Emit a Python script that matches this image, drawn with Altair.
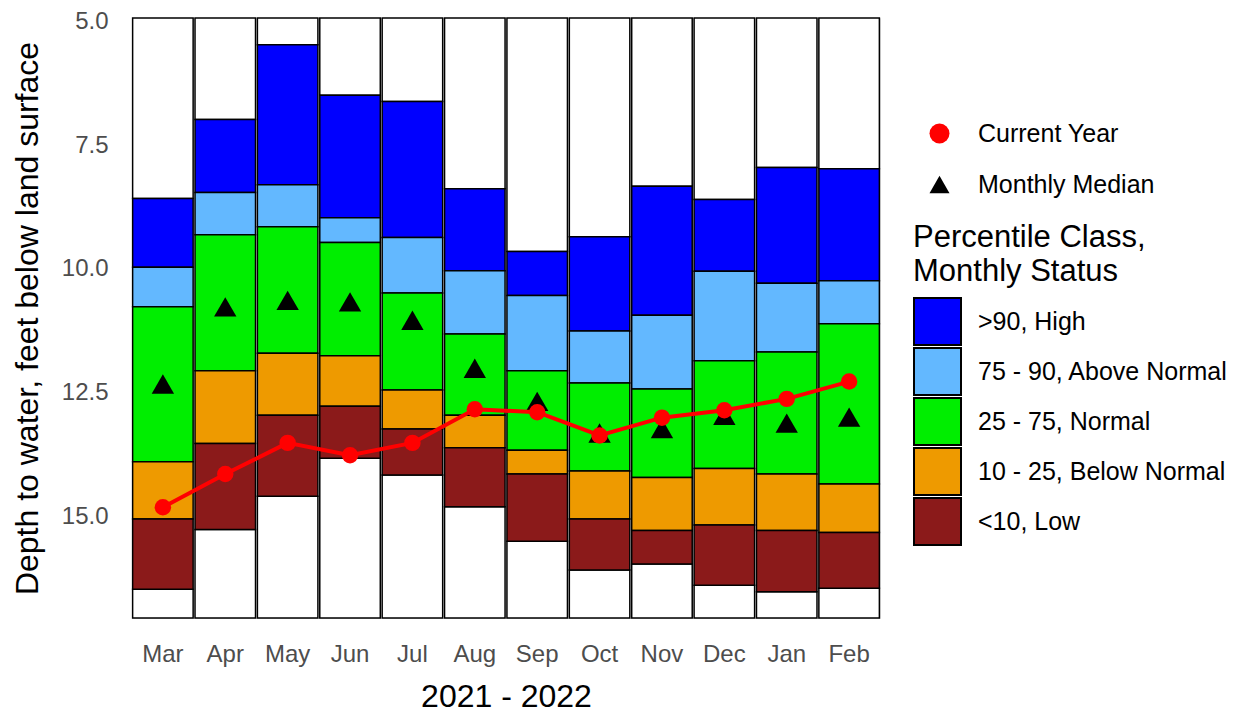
import altair as alt
import pandas as pd

months = ["Mar", "Apr", "May", "Jun", "Jul", "Aug", "Sep", "Oct", "Nov", "Dec", "Jan", "Feb"]
high_top = [8.58, 6.98, 5.47, 6.49, 6.62, 8.38, 9.65, 9.35, 8.33, 8.60, 7.95, 7.98]
p90 = [9.97, 8.46, 8.30, 8.97, 9.37, 10.04, 10.54, 11.26, 10.94, 10.05, 10.29, 10.24]
p75 = [10.77, 9.31, 9.15, 9.47, 10.49, 11.32, 12.06, 12.31, 12.43, 11.86, 11.68, 11.11]
p25 = [13.90, 12.06, 11.71, 11.76, 12.45, 12.96, 13.67, 14.09, 14.22, 14.04, 14.15, 14.35]
p10 = [15.06, 13.53, 12.96, 12.78, 13.24, 13.62, 14.15, 15.06, 15.29, 15.18, 15.29, 15.33]
low_bottom = [16.48, 15.27, 14.60, 13.83, 14.17, 14.81, 15.51, 16.09, 15.97, 16.40, 16.53, 16.46]
median = [12.33, 10.77, 10.64, 10.67, 11.04, 12.01, 12.68, 13.32, 13.23, 12.96, 13.12, 13.00]
current = [14.82, 14.15, 13.52, 13.77, 13.52, 12.84, 12.90, 13.37, 13.01, 12.86, 12.63, 12.28]

y_limits = [4.93, 17.06]
y_ticks = [5.0, 7.5, 10.0, 12.5, 15.0]

classes = [">90, High", "75 - 90, Above Normal", "25 - 75, Normal",
           "10 - 25, Below Normal", "<10, Low"]
class_colors = ["#0000FF", "#63B8FF", "#00EE00", "#EE9A00", "#8B1A1A"]
series_names = ["Current Year", "Monthly Median"]

FONT = "Liberation Sans"

rows = []
bounds = [high_top, p90, p75, p25, p10, low_bottom]
for i, m in enumerate(months):
    for k, c in enumerate(classes):
        rows.append({"month": m, "cls": c, "top": bounds[k][i], "bottom": bounds[k + 1][i]})
rect_df = pd.DataFrame(rows)

white_rows = []
for i, m in enumerate(months):
    white_rows.append({"month": m, "top": y_limits[0], "bottom": high_top[i]})
    white_rows.append({"month": m, "top": low_bottom[i], "bottom": y_limits[1]})
white_df = pd.DataFrame(white_rows)

cur_df = pd.DataFrame({"month": months, "value": current, "series": series_names[0]})
med_df = pd.DataFrame({"month": months, "value": median, "series": series_names[1]})

x_enc = alt.X("month:N", sort=months, title="2021 - 2022",
              scale=alt.Scale(paddingInner=0.03, paddingOuter=0.01),
              axis=alt.Axis(labelAngle=0, ticks=False, domain=False, labelFontSize=24,
                            labelColor="#4D4D4D", labelFont=FONT, labelPadding=24,
                            titleFontSize=32, titleFont=FONT, titleColor="black",
                            titleFontWeight="normal", titlePadding=15))
y_scale = alt.Scale(domain=y_limits, reverse=True, nice=False, zero=False)
y_axis = alt.Axis(values=y_ticks, format=".1f", ticks=False, domain=False, grid=False,
                  labelFontSize=24, labelColor="#4D4D4D", labelFont=FONT, labelPadding=24,
                  titleFontSize=32, titleFont=FONT, titleColor="black",
                  titleFontWeight="normal", titlePadding=17)

white = alt.Chart(white_df).mark_rect(fill="white", stroke="black", strokeWidth=1.5).encode(
    x=x_enc,
    y=alt.Y("top:Q", scale=y_scale, axis=y_axis, title="Depth to water, feet below land surface"),
    y2="bottom:Q",
)

bars = alt.Chart(rect_df).mark_rect(stroke="black", strokeWidth=1.5).encode(
    x=x_enc,
    y=alt.Y("top:Q", scale=y_scale, axis=y_axis, title="Depth to water, feet below land surface"),
    y2="bottom:Q",
    fill=alt.Fill("cls:N", sort=classes,
                  scale=alt.Scale(domain=classes, range=class_colors),
                  legend=alt.Legend(title=["Percentile Class,", "Monthly Status"],
                                    orient="none", legendX=781, legendY=205,
                                    symbolType="square", symbolSize=2209,
                                    symbolStrokeColor="black", symbolStrokeWidth=2,
                                    labelFontSize=25, labelFont=FONT, labelColor="black",
                                    labelOffset=16, rowPadding=1, clipHeight=49,
                                    padding=0, labelLimit=0,
                                    titleFontSize=31, titleFont=FONT, titleColor="black",
                                    titleFontWeight="normal", titleLineHeight=34,
                                    titlePadding=9, titleAnchor="start", titleLimit=0)),
)

shape_scale = alt.Scale(domain=series_names, range=["circle", "triangle-up"])
color_scale = alt.Scale(domain=series_names, range=["#FF0000", "black"])
pt_legend = alt.Legend(title=None, orient="none", legendX=795, legendY=103,
                       symbolSize=400, symbolStrokeWidth=0,
                       labelFontSize=25, labelFont=FONT, labelColor="black",
                       labelOffset=26, rowPadding=25, padding=0, labelLimit=0)

med = alt.Chart(med_df).mark_point(filled=True, size=500, opacity=1).encode(
    x=x_enc,
    y=alt.Y("value:Q", scale=y_scale),
    color=alt.Color("series:N", scale=color_scale, legend=pt_legend),
    shape=alt.Shape("series:N", scale=shape_scale, legend=pt_legend),
)

line = alt.Chart(cur_df).mark_line(color="#FF0000", strokeWidth=4).encode(
    x=x_enc,
    y=alt.Y("value:Q", scale=y_scale),
)

cur = alt.Chart(cur_df).mark_point(filled=True, size=270, opacity=1).encode(
    x=x_enc,
    y=alt.Y("value:Q", scale=y_scale),
    color=alt.Color("series:N", scale=color_scale, legend=pt_legend),
    shape=alt.Shape("series:N", scale=shape_scale, legend=pt_legend),
)

chart = alt.layer(white, bars, med, line, cur).properties(
    width=748, height=600,
    autosize=alt.AutoSizeParams(type="none"),
    padding={"left": 124, "top": 10, "right": 356, "bottom": 95},
).configure_view(stroke="#333333", strokeWidth=1).configure(background="white")

chart.save("out.html", embed_options={"renderer": "svg", "actions": False})
